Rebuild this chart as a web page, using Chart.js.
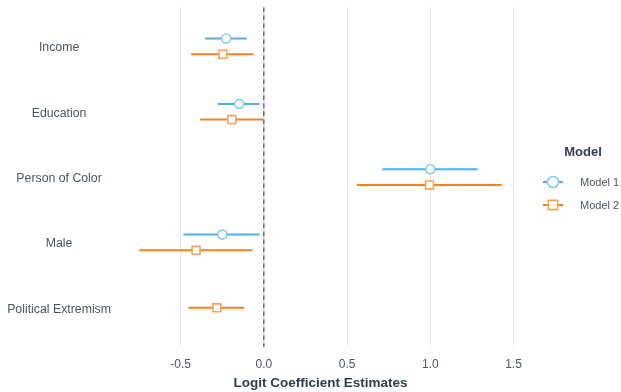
<!DOCTYPE html>
<html>
<head>
<meta charset="utf-8">
<script src="https://cdn.jsdelivr.net/npm/chart.js@4.4.1/dist/chart.umd.min.js"></script>
<style>
  html, body { margin: 0; padding: 0; background: #ffffff; }
  #wrap { width: 621px; height: 392px; }
</style>
</head>
<body>
<div id="wrap"><canvas id="c" width="621" height="392"></canvas></div>
<script>
// Predictors (top to bottom) and the two models' logit estimates with 95% intervals
const categories = ['Income', 'Education', 'Person of Color', 'Male', 'Political Extremism'];
const modelNames = ['Model 1', 'Model 2'];
const model1Est  = [-0.226, -0.148, 1.000, -0.249, null];
const model1Low  = [-0.353, -0.276, 0.712, -0.483, null];
const model1High = [-0.102, -0.026, 1.285, -0.026, null];
const model2Est  = [-0.246, -0.192, 0.995, -0.407, -0.282];
const model2Low  = [-0.437, -0.383, 0.559, -0.749, -0.453];
const model2High = [-0.062, -0.006, 1.430, -0.068, -0.118];
const xTicks = [-0.5, 0, 0.5, 1, 1.5];
const xTitle = 'Logit Coefficient Estimates';
const legendTitle = 'Model';

// styling
const COLORS = ['#4cb1ee', '#f7821b'];
const MARKER_EDGE = ['#86c9f3', '#f9a454'];
const MARKER_STYLE = ['circle', 'rect'];
const MARKER_RADIUS = [4.5, 5.6];
const TEXT = '#4b5563';
const TITLE = '#2c3e50';
const FONT = '"Liberation Sans", Arial, sans-serif';
const DODGE = 0.12;
const Y_MIN = -0.6, Y_MAX = categories.length - 0.4;

const estimates = [model1Est, model2Est];
const lows = [model1Low, model2Low];
const highs = [model1High, model2High];

// vertical position of a model's row within a category (dodged when both models are present)
function rowY(ci, mi) {
  const n = estimates.filter(e => e[ci] !== null).length;
  if (n < 2) return ci;
  return ci + (mi === 0 ? -DODGE : DODGE);
}

function intervalData(mi) {
  const out = [];
  categories.forEach((_, ci) => {
    if (estimates[mi][ci] === null) return;
    const y = rowY(ci, mi);
    out.push({ x: lows[mi][ci], y: y }, { x: highs[mi][ci], y: y }, { x: null, y: null });
  });
  return out;
}

function pointData(mi) {
  const out = [];
  categories.forEach((_, ci) => {
    if (estimates[mi][ci] === null) return;
    out.push({ x: estimates[mi][ci], y: rowY(ci, mi) });
  });
  return out;
}

const datasets = [];
modelNames.forEach((name, mi) => {
  datasets.push({
    label: name,
    data: pointData(mi),
    showLine: false,
    pointStyle: MARKER_STYLE[mi],
    pointRadius: MARKER_RADIUS[mi],
    pointBackgroundColor: '#ffffff',
    pointBorderColor: MARKER_EDGE[mi],
    pointBorderWidth: 1.6,
    order: 0
  });
  datasets.push({
    label: name + ' interval',
    data: intervalData(mi),
    showLine: true,
    spanGaps: false,
    borderColor: COLORS[mi],
    borderWidth: 2,
    pointRadius: 0,
    order: 1
  });
});
// reference line at zero
datasets.push({
  label: 'zero',
  data: [{ x: 0, y: Y_MIN }, { x: 0, y: Y_MAX }],
  showLine: true,
  borderColor: '#666666',
  borderWidth: 1.5,
  borderDash: [5, 3],
  pointRadius: 0,
  order: 2
});

const modelLegend = {
  id: 'modelLegend',
  afterDraw(chart) {
    const ctx = chart.ctx;
    ctx.save();
    ctx.fillStyle = TITLE;
    ctx.font = 'bold 13px ' + FONT;
    ctx.textAlign = 'center';
    ctx.textBaseline = 'middle';
    ctx.fillText(legendTitle, 583, 152);
    modelNames.forEach((name, mi) => {
      const y = 182 + mi * 23;
      ctx.strokeStyle = COLORS[mi];
      ctx.lineWidth = 2;
      ctx.setLineDash([]);
      ctx.beginPath();
      ctx.moveTo(543, y);
      ctx.lineTo(563, y);
      ctx.stroke();
      ctx.fillStyle = '#ffffff';
      ctx.strokeStyle = MARKER_EDGE[mi];
      ctx.lineWidth = 1.6;
      Chart.helpers.drawPoint(ctx, { pointStyle: MARKER_STYLE[mi], radius: MARKER_RADIUS[mi] + 1, borderWidth: 1.6 }, 553, y);
      ctx.fillStyle = TEXT;
      ctx.font = '11px ' + FONT;
      ctx.textAlign = 'left';
      ctx.fillText(name, 580, y + 0.5);
    });
    ctx.restore();
  }
};

new Chart(document.getElementById('c'), {
  type: 'scatter',
  data: { datasets: datasets },
  plugins: [modelLegend],
  options: {
    responsive: false,
    animation: false,
    devicePixelRatio: 1,
    layout: { padding: { top: 7, right: 101, left: 0, bottom: 0 } },
    plugins: { legend: { display: false }, tooltip: { enabled: false } },
    scales: {
      x: {
        type: 'linear',
        min: -0.858,
        max: 1.539,
        afterBuildTicks: s => { s.ticks = xTicks.map(v => ({ value: v })); },
        afterFit: s => { s.height = 45; s.paddingLeft = 0; s.paddingRight = 0; },
        grid: { color: '#e6e6e6', lineWidth: 1, drawTicks: false },
        border: { display: false },
        ticks: {
          callback: v => Number(v).toFixed(1),
          color: TEXT,
          font: { family: FONT, size: 12 },
          padding: 10,
          maxRotation: 0
        },
        title: {
          display: true,
          text: xTitle,
          color: TITLE,
          font: { family: FONT, size: 13.5, weight: 'bold' },
          padding: { top: 0, bottom: 1 }
        }
      },
      y: {
        type: 'linear',
        reverse: true,
        min: Y_MIN,
        max: Y_MAX,
        afterBuildTicks: s => { s.ticks = categories.map((_, i) => ({ value: i })); },
        afterFit: s => { s.width = 121; s.paddingTop = 0; s.paddingBottom = 0; },
        grid: { display: false, drawTicks: false },
        border: { display: false },
        ticks: {
          callback: v => categories[v] ?? '',
          crossAlign: 'center',
          color: TEXT,
          font: { family: FONT, size: 12.3 },
          padding: 10,
          labelOffset: 1.5
        }
      }
    }
  }
});
</script>
</body>
</html>
